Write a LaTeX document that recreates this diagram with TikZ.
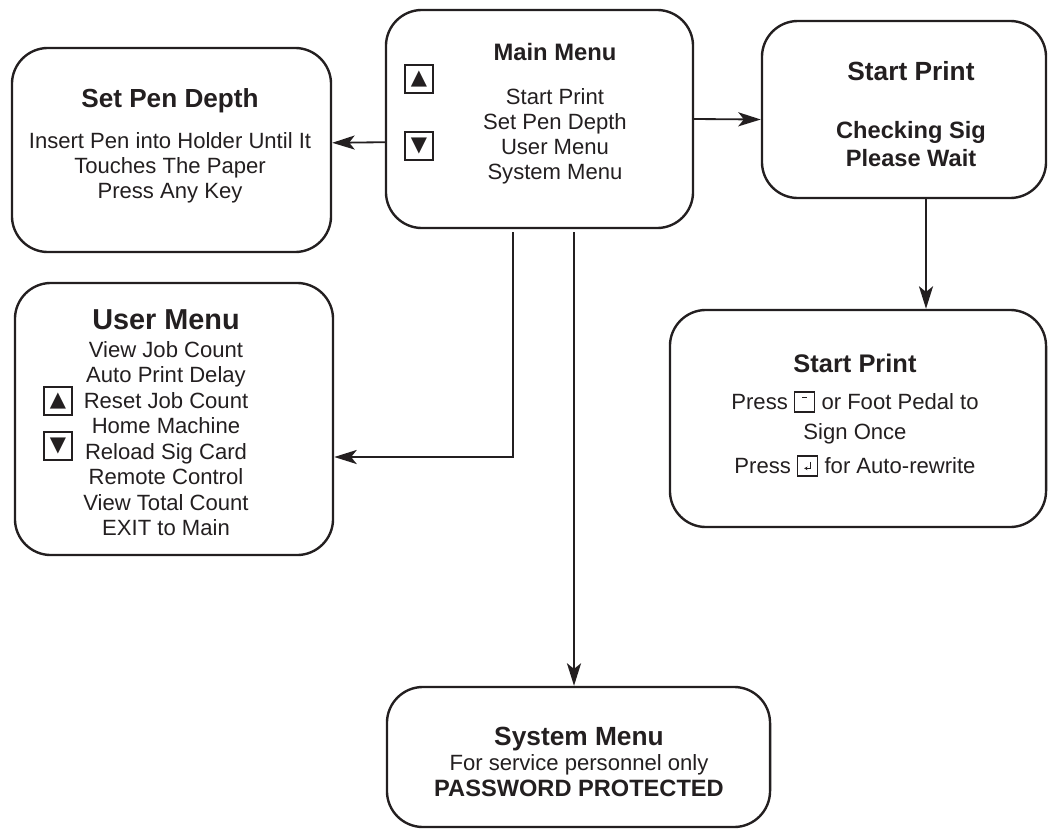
\documentclass[tikz,border=0pt]{standalone}
\usepackage{fontspec}
\setmainfont{Liberation Sans}
\newfontfamily\keyfont{DejaVu Sans}
\usepackage{tikz}
\usetikzlibrary{arrows.meta}

\definecolor{ink}{RGB}{35,31,32}

% title line of a menu screen
\newcommand{\ttl}[2][18.6]{{\fontsize{#1}{#1}\selectfont\bfseries #2}}
% keypad keys printed inside the text
\newcommand{\minuskey}{\smash{\tikz[baseline=2pt,x=1cm,y=1cm,line width=1pt]{\draw (0,0) rectangle (0.5,0.5); \draw[line width=0.6pt] (0.19,0.36) -- (0.31,0.36);}}}
\newcommand{\enterkey}{\smash{\tikz[baseline=2pt,x=1cm,y=1cm,line width=1pt]{\draw (0,0) rectangle (0.5,0.5); \draw[line width=0.5pt,-{Stealth[length=2.4pt,width=2.6pt]}] (0.32,0.35) -- (0.32,0.19) -- (0.16,0.19);}}}

\begin{document}
\begin{tikzpicture}[x=0.025cm, y=-0.025cm, color=ink,
		menubox/.style={draw, line width=1.7pt, rounded corners=0.9cm, inner sep=0pt},
		menutext/.style={align=center, anchor=north, inner sep=0pt, font=\fontsize{15.7}{17.8}\selectfont},
		keybox/.style={draw, line width=1.4pt, minimum size=0.7cm, inner sep=0pt, font=\keyfont\fontsize{15}{15}\selectfont},
		flow/.style={line width=1.3pt, -{Stealth[length=16pt,width=10pt,inset=4pt]}}]
				\useasboundingbox (0,0) rectangle (1048,829);
				
				% Screens
				\node (main) [menubox, minimum width=7.675cm, minimum height=5.45cm] at (539.5,119) {};
				\node (pen) [menubox, minimum width=7.975cm, minimum height=5.1cm] at (171.5,150) {};
				\node (spTop) [menubox, minimum width=7.1cm, minimum height=4.425cm] at (904,109.5) {};
				\node (spBot) [menubox, minimum width=9.4cm, minimum height=5.425cm] at (858,418.5) {};
				\node (user) [menubox, minimum width=7.95cm, minimum height=6.8cm] at (174,419) {};
				\node (sys) [menubox, minimum width=9.575cm, minimum height=3.5cm] at (578.5,757) {};
				
				% Screen texts
				\node (mainText) [menutext] at (555,43.2) {\ttl[16.9]{Main Menu}\\[13.1pt] Start Print\\ Set Pen Depth\\ User Menu\\ System Menu};
				\node (penText) [menutext] at (170,88.3) {\ttl{Set Pen Depth}\\[11.1pt] Insert Pen into Holder Until It\\ Touches The Paper\\ Press Any Key};
				\node (spTopText) [menutext, font=\fontsize{16.8}{19.9}\selectfont\bfseries] at (911,61.3) {\ttl[18.7]{Start Print}\\[21.3pt] Checking Sig\\ Please Wait};
				\node (spBotText) [menutext] at (855,353.6) {\ttl[18.1]{Start Print}\\[8.4pt] Press \minuskey{} or Foot Pedal to\\[3.5pt] Sign Once\\[6.4pt] Press \enterkey{} for Auto-rewrite};
				\node (userText) [menutext, font=\fontsize{15.7}{18.1}\selectfont] at (166,309.3) {\ttl[20.5]{User Menu}\\[1.9pt] View Job Count\\ Auto Print Delay\\ Reset Job Count\\ Home Machine\\ Reload Sig Card\\ Remote Control\\ View Total Count\\ EXIT to Main};
				\node (sysText) [menutext] at (579,727.3) {\ttl[18.7]{System Menu}\\[-0.4pt] For service personnel only\\[1pt] {\fontsize{16.8}{16.8}\selectfont\bfseries PASSWORD PROTECTED}};
				
				% Keys
				\node (mainUp) [keybox] at (419,79) {▲};
				\node (mainDown) [keybox] at (419,146) {▼};
				\node (userUp) [keybox] at (58,401) {▲};
				\node (userDown) [keybox] at (58,446) {▼};
				
				% Arrows
				\coordinate (spTopOut) at ([xshift=0.55cm]spTop.south);
				\coordinate (userTap) at ([xshift=-0.6625cm,yshift=-0.075cm]main.south);
				\coordinate (sysTap) at ([xshift=0.8625cm,yshift=-0.075cm]main.south);
				\draw[flow] ([yshift=-0.58cm]main.west) -- ([yshift=0.18cm]pen.east);
				\draw[flow] (main.east) -- ([yshift=-0.25cm]spTop.west);
				\draw[flow] (spTopOut) -- (spTopOut |- spBot.north);
				\draw[flow] (userTap) |- ([yshift=-0.95cm]user.east);
				\draw[flow] (sysTap) -- (sysTap |- sys.north);
				
			\end{tikzpicture}
\end{document}
